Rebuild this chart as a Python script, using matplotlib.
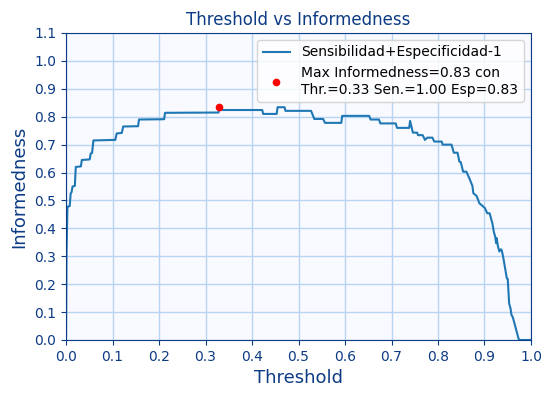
import numpy as np
import matplotlib
matplotlib.use('Agg')
import matplotlib.pyplot as plt

# Curve (threshold, informedness)
thresholds = [0.000, 0.001, 0.003, 0.004, 0.008, 0.010, 0.012, 0.014, 0.019, 0.021,
              0.032, 0.034, 0.051, 0.053, 0.056, 0.059, 0.106, 0.109, 0.120, 0.123,
              0.155, 0.157, 0.211, 0.213, 0.328, 0.330, 0.332, 0.422, 0.424, 0.453,
              0.455, 0.470, 0.472, 0.527, 0.534, 0.553, 0.557, 0.592, 0.594, 0.652,
              0.655, 0.673, 0.676, 0.709, 0.712, 0.738, 0.740, 0.746, 0.755, 0.757,
              0.767, 0.772, 0.777, 0.788, 0.792, 0.808, 0.810, 0.829, 0.834, 0.842,
              0.846, 0.849, 0.854, 0.861, 0.869, 0.874, 0.876, 0.883, 0.889, 0.896,
              0.901, 0.906, 0.911, 0.913, 0.917, 0.920, 0.923, 0.925, 0.926, 0.929,
              0.932, 0.935, 0.937, 0.940, 0.948, 0.950, 0.953, 0.956, 0.958, 0.961,
              0.973, 0.975, 1.000]
informedness = [0.000, 0.300, 0.470, 0.478, 0.480, 0.525, 0.530, 0.550, 0.552, 0.620,
                0.622, 0.645, 0.647, 0.668, 0.670, 0.715, 0.717, 0.740, 0.742, 0.765,
                0.766, 0.790, 0.791, 0.814, 0.815, 0.836, 0.824, 0.824, 0.810, 0.810,
                0.834, 0.834, 0.821, 0.821, 0.792, 0.792, 0.778, 0.778, 0.803, 0.803,
                0.790, 0.790, 0.776, 0.776, 0.760, 0.760, 0.785, 0.743, 0.743, 0.734,
                0.734, 0.717, 0.725, 0.725, 0.711, 0.711, 0.700, 0.700, 0.671, 0.671,
                0.639, 0.637, 0.603, 0.603, 0.573, 0.552, 0.526, 0.516, 0.490, 0.480,
                0.472, 0.454, 0.454, 0.442, 0.418, 0.388, 0.370, 0.347, 0.365, 0.335,
                0.317, 0.325, 0.322, 0.299, 0.221, 0.219, 0.131, 0.113, 0.090, 0.081,
                0.006, 0.000, 0.000]

best_thr = 0.33
best_inf = 0.836
best_label = "Max Informedness=0.83 con\nThr.=0.33 Sen.=1.00 Esp=0.83"

navy = '#0d3b84'
grid_col = '#b8d4f2'
bg = '#f8faff'

fig = plt.figure(figsize=(5.51, 3.97), dpi=100)
ax = fig.add_axes([0.1198, 0.1436, 0.8439, 0.7733])
ax.set_facecolor(bg)

ax.plot(thresholds, informedness, color='#1f77b4', lw=1.5,
        label='Sensibilidad+Especificidad-1')
ax.plot(best_thr, best_inf, 'o', color='red', ms=4.5, label=best_label, zorder=3)

ax.set_xlim(0, 1.0)
ax.set_ylim(0, 1.1)
ax.set_xticks(np.arange(0, 1.01, 0.1))
ax.set_yticks(np.arange(0, 1.11, 0.1))
ax.set_xticklabels([f'{v:.1f}' for v in np.arange(0, 1.01, 0.1)])
ax.set_yticklabels([f'{v:.1f}' for v in np.arange(0, 1.11, 0.1)])
ax.grid(True, color=grid_col, lw=1)
ax.set_axisbelow(True)

for s in ax.spines.values():
    s.set_color(navy)
ax.tick_params(colors=navy, labelsize=10)

ax.set_title('Threshold vs Informedness', color=navy, fontsize=12)
ax.set_xlabel('Threshold', color=navy, fontsize=13)
ax.set_ylabel('Informedness', color=navy, fontsize=13)

ax.legend(loc='upper right', fontsize=10)

fig.savefig('out.png', dpi=100)
